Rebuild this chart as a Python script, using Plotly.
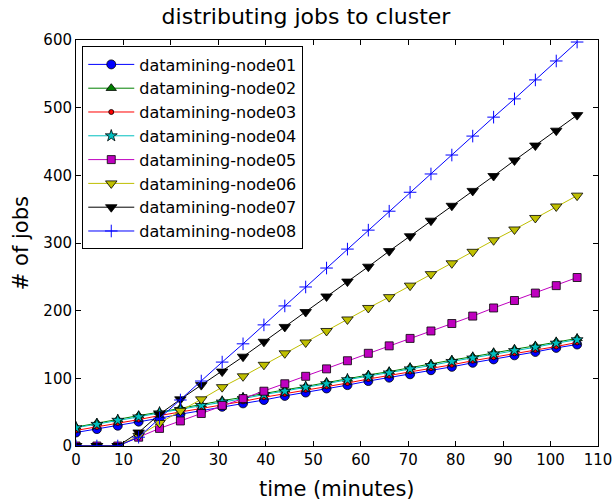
import plotly.graph_objects as go

time_min = [0.0, 4.4, 8.8, 13.2, 17.6, 22.0, 26.4, 30.8, 35.2, 39.6, 44.0, 48.4, 52.8,
            57.2, 61.6, 66.0, 70.4, 74.8, 79.2, 83.6, 88.0, 92.4, 96.8, 101.2, 105.6]

node01 = [20, 25, 30, 36, 41, 47, 52, 58, 63, 68, 74, 79, 85, 90, 96, 101, 106, 112, 117, 123, 128, 134, 139, 145, 150]
node02 = [28, 34, 39, 45, 50, 56, 61, 67, 72, 78, 83, 88, 94, 99, 105, 110, 116, 121, 127, 132, 138, 143, 148, 154, 159]
node03 = [23, 28, 34, 39, 45, 50, 55, 61, 66, 72, 77, 83, 88, 93, 99, 104, 110, 115, 120, 126, 131, 137, 142, 147, 153]
node04 = [27, 32, 38, 43, 49, 54, 60, 65, 70, 76, 81, 87, 92, 98, 103, 108, 114, 119, 125, 130, 136, 141, 146, 152, 157]
node05 = [0, 0, 0, 13, 26, 37, 48, 60, 70, 81, 92, 103, 114, 126, 137, 148, 159, 170, 181, 192, 204, 215, 226, 237, 249]
node06 = [0, 0, 0, 15, 34, 52, 69, 87, 103, 120, 137, 153, 170, 187, 204, 220, 237, 254, 270, 287, 304, 320, 337, 354, 370]
node07 = [0, 0, 0, 20, 47, 69, 90, 110, 132, 154, 176, 198, 221, 243, 265, 288, 310, 333, 355, 377, 399, 422, 444, 466, 489]
node08 = [0, 0, 0, 13, 41, 68, 96, 124, 151, 179, 207, 235, 263, 291, 319, 347, 375, 402, 430, 458, 486, 513, 541, 569, 597]

names = ["datamining-node01", "datamining-node02", "datamining-node03", "datamining-node04",
         "datamining-node05", "datamining-node06", "datamining-node07", "datamining-node08"]
series = [node01, node02, node03, node04, node05, node06, node07, node08]

styles = [
    dict(color="#0000ff", symbol="circle", size=9),
    dict(color="#008000", symbol="triangle-up", size=9),
    dict(color="#ff0000", symbol="circle", size=5),
    dict(color="#00bfbf", symbol="star", size=9),
    dict(color="#bf00bf", symbol="square", size=8),
    dict(color="#bfbf00", symbol="triangle-down", size=10),
    dict(color="#000000", symbol="triangle-down", size=10),
    dict(color="#0000ff", symbol="cross-thin", size=9),
]

fig = go.Figure()
for name, ys, st in zip(names, series, styles):
    if st["symbol"] == "cross-thin":
        marker = dict(symbol="cross-thin", size=st["size"], color=st["color"],
                      line=dict(color=st["color"], width=1))
    else:
        marker = dict(symbol=st["symbol"], size=st["size"], color=st["color"],
                      line=dict(color="#000000", width=0.8))
    fig.add_trace(go.Scatter(x=time_min, y=ys, name=name, mode="lines+markers",
                             line=dict(color=st["color"], width=1), marker=marker))

axis_common = dict(showline=True, linecolor="#000000", linewidth=1, mirror="ticks",
                   ticks="inside", ticklen=5, tickcolor="#000000", showgrid=False,
                   zeroline=False, automargin=False, ticklabeloverflow="allow",
                   tickfont=dict(family="DejaVu Sans", size=15, color="#000000"))

fig.update_layout(
    width=612, height=502,
    margin=dict(l=76, r=14, t=40, b=56, autoexpand=False),
    paper_bgcolor="white", plot_bgcolor="white",
    font=dict(family="DejaVu Sans", color="#000000"),
    title=dict(text="distributing jobs to cluster", x=0.5, xanchor="center",
               y=0.968, yanchor="middle", font=dict(size=22, family="DejaVu Sans")),
    xaxis=dict(range=[0, 110], dtick=10, tick0=0, **axis_common),
    yaxis=dict(range=[0, 600], dtick=100, tick0=0, **axis_common),
    legend=dict(x=0.012, y=0.984, xanchor="left", yanchor="top",
                bordercolor="#000000", borderwidth=1, bgcolor="white", itemwidth=46,
                font=dict(size=16, family="DejaVu Sans")),
    showlegend=True,
    annotations=[
        dict(text="time (minutes)", xref="paper", yref="paper", x=0.5, y=-0.105,
             xanchor="center", yanchor="middle", showarrow=False,
             font=dict(size=21, family="DejaVu Sans")),
        dict(text="# of jobs", xref="paper", yref="paper", x=-0.105, y=0.5,
             xanchor="center", yanchor="middle", showarrow=False, textangle=-90,
             font=dict(size=21, family="DejaVu Sans")),
    ],
)

fig.write_html("out.html", config={"displayModeBar": False},
               post_script="document.body.style.margin='0';")
